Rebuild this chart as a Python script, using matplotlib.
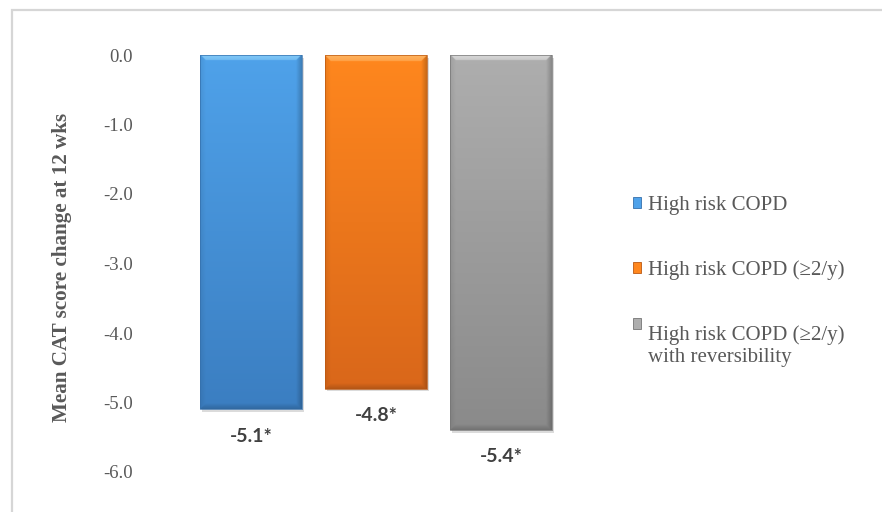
import numpy as np
import matplotlib
matplotlib.use("Agg")
import matplotlib.pyplot as plt
import matplotlib.patheffects as pe
from matplotlib.patches import Patch, Rectangle
from matplotlib.colors import to_rgb

# ---- data ----
categories = ["High risk COPD",
              "High risk COPD (\u22652/y)",
              "High risk COPD (\u22652/y)\nwith reversibility"]
values = [-5.1, -4.8, -5.4]
value_labels = ["-5.1*", "-4.8*", "-5.4*"]
yticks = [0.0, -1.0, -2.0, -3.0, -4.0, -5.0, -6.0]
ytick_labels = ["0.0", "-1.0", "-2.0", "-3.0", "-4.0", "-5.0", "-6.0"]
ylabel = "Mean CAT score change at 12 wks"

# ---- styles ----
top_colors = ["#4FA2EA", "#FF871E", "#AEAEAE"]
bottom_colors = ["#3B7EC1", "#D9671A", "#8A8A8A"]
highlight_colors = ["#8ED2FA", "#FFBC6E", "#E2E2E2"]
edge_colors = ["#3570AC", "#BA5812", "#757575"]
serif = "Liberation Serif"
gray_text = "#595959"

W, H = 882, 512
fig = plt.figure(figsize=(W / 100, H / 100), dpi=100)
fig.patch.set_facecolor("white")

# chart-area frame (light gray, clipped on right/bottom as in the reference)
fig.add_artist(Rectangle((12 / W, -0.05), 1.1, (H - 10) / H + 0.05,
                         transform=fig.transFigure, fill=False,
                         edgecolor="#D6D6D6", linewidth=1.6, zorder=0))

ax = fig.add_axes([188.5 / W, (H - 472) / H, 375 / W, (472 - 55) / H])
x = np.arange(len(values))
bars = ax.bar(x, values, width=0.816, color=top_colors,
              edgecolor=edge_colors, linewidth=0.5, zorder=3)

# bevel / gradient fill, clipped to each bar
px_per_unit = (472 - 55) / 6.0
for bar, tc, bc, hc in zip(bars, top_colors, bottom_colors, highlight_colors):
    x0, w = bar.get_x(), bar.get_width()
    y0, h = bar.get_y(), bar.get_height()
    n = int(abs(h) * px_per_unit) * 2
    m = int(w * 125.0) * 2
    rows = np.arange(n)[:, None] + 0.5
    cols = np.arange(m)[None, :] + 0.5
    t = rows / n
    top = np.array(to_rgb(tc)); bot = np.array(to_rgb(bc)); hi = np.array(to_rgb(hc))
    img = (1 - t)[..., None] * top + t[..., None] * bot
    img = np.broadcast_to(img, (n, m, 3)).copy()
    b = 12.0  # bevel size in half-pixels
    d_top = np.broadcast_to(rows, (n, m))
    d_bot = np.broadcast_to(n - rows, (n, m))
    d_left = np.broadcast_to(cols, (n, m))
    d_right = np.broadcast_to(m - cols, (n, m))
    dmin = np.minimum(np.minimum(d_top, d_bot), np.minimum(d_left, d_right))
    in_b = dmin < b
    topf = in_b & (d_top == dmin)
    leftf = in_b & (d_left == dmin) & ~topf
    rightf = in_b & (d_right == dmin) & ~topf
    botf = in_b & (d_bot == dmin) & ~topf & ~leftf & ~rightf
    k = (1 - dmin / b)[..., None]  # stronger near the edge
    a_top = 0.55 + 0.3 * k
    img = np.where(topf[..., None], img * (1 - a_top) + hi * a_top, img)
    img = np.where(leftf[..., None], img * (1 - 0.08 * k), img)
    img = np.where(rightf[..., None], img * (1 - 0.22 * k), img)
    img = np.where(botf[..., None], img * (1 - 0.18 * k), img)
    im = ax.imshow(np.clip(img, 0, 1), extent=(x0, x0 + w, y0 + h, y0), origin="upper",
                   aspect="auto", interpolation="bilinear", zorder=2)
    im.set_clip_path(bar)
    bar.set_facecolor("none")

# soft shadow behind the bars
shadow = ax.bar(x, values, width=0.816, color="#000000", alpha=0.0, zorder=1,
                linewidth=0)
for sb in shadow:
    sb.set_path_effects([pe.SimplePatchShadow(offset=(1.5, -2.0),
                                              shadow_rgbFace="#9A9A9A", alpha=0.35)])

# value labels below the bars
for xi, v, lab in zip(x, values, value_labels):
    ax.annotate(lab, (xi, v), xytext=(0, -13), textcoords="offset points",
                ha="center", va="top", fontsize=14, fontweight="bold",
                family="Lato", color="#404040")

ax.set_xlim(-0.5, 2.5)
ax.set_ylim(-6.0, 0.0)
ax.set_yticks(yticks)
ax.set_yticklabels(ytick_labels, family=serif, fontsize=13.5, color=gray_text)
ax.set_xticks([])
ax.tick_params(axis="y", length=0, pad=40)
for s in ax.spines.values():
    s.set_visible(False)
ax.set_ylabel(ylabel, family=serif, fontsize=15.2, fontweight="bold", color=gray_text)
ax.yaxis.set_label_coords(-0.31, 0.49)

# legend
handles = [Patch(facecolor=tc, edgecolor=ec, linewidth=0.6)
           for tc, ec in zip(top_colors, edge_colors)]
leg = fig.legend(handles, categories, loc="upper left",
                 bbox_to_anchor=(633 / W, 1 - 196 / H), bbox_transform=fig.transFigure,
                 frameon=False, borderpad=0, borderaxespad=0,
                 handlelength=0.38, handleheight=0.4, handletextpad=0.35,
                 labelspacing=2.18, prop={"family": serif, "size": 15})
for t in leg.get_texts():
    t.set_color(gray_text)

# align the third marker with the first line of its two-line label
fig.canvas.draw()
r = fig.canvas.get_renderer()
texts = leg.get_texts()
h1 = texts[0].get_window_extent(r).height
h3 = texts[2].get_window_extent(r).height
p3 = leg.get_patches()[2]
p3.set_y(p3.get_y() + (h3 - h1) * 72 / fig.dpi)

fig.savefig("out.png", dpi=100)
